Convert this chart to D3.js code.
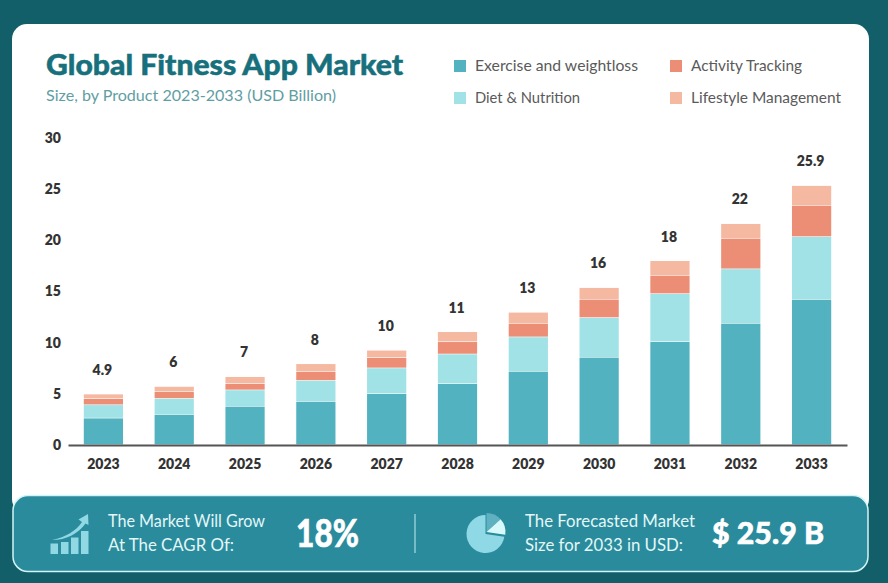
<!DOCTYPE html>
<html><head><meta charset="utf-8">
<script src="https://cdnjs.cloudflare.com/ajax/libs/d3/7.8.5/d3.min.js"></script>
<style>html,body{margin:0;padding:0;background:#125e69}svg{display:block}text{font-family:Lato,sans-serif}</style>
</head><body><svg id="c" width="888" height="583"></svg>
<script>
const years=["2023","2024","2025","2026","2027","2028","2029","2030","2031","2032","2033"];
const exercise=[2.6,2.96,3.75,4.23,4.99,5.96,7.17,8.54,10.07,11.86,14.2];
const diet=[1.3,1.56,1.6,2.05,2.51,2.9,3.36,3.88,4.69,5.32,6.13];
const activity=[0.6,0.68,0.62,0.88,1.01,1.2,1.33,1.79,1.79,2.99,3.06];
const lifestyle=[0.45,0.49,0.68,0.75,0.72,0.98,1.08,1.14,1.43,1.43,1.93];
const totalLabels=["4.9","6","7","8","10","11","13","16","18","22","25.9"];
const yTicks=[0,5,10,15,20,25,30];
const seriesNames=["Exercise and weightloss","Diet & Nutrition","Activity Tracking","Lifestyle Management"];
const seriesColors=["#52b2c0","#a0e2e6","#ec8d76","#f5b9a2"];

const svg=d3.select("#c");
svg.append("rect").attr("width",888).attr("height",583).attr("fill","#125e69");
svg.append("rect").attr("x",12).attr("y",24).attr("width",857).attr("height",490).attr("rx",15).attr("fill","#fff");

function fit(sel,w){return sel.attr("textLength",w).attr("lengthAdjust","spacingAndGlyphs");}
function label(t,x,y,size,weight,color,w){
  return fit(svg.append("text").text(t).attr("x",x).attr("y",y).attr("font-size",size).attr("font-weight",weight).attr("fill",color),w);
}
label("Global Fitness App Market",46,75,29,900,"#17707c",357).attr("stroke","#17707c").attr("stroke-width",.5);
label("Size, by Product 2023-2033 (USD Billion)",46,101,15.5,400,"#5f9ea3",290);

const x=d3.scaleBand().domain(years).range([68,847]).paddingInner(.446).paddingOuter(.223);
const y=d3.scaleLinear().domain([0,30]).range([445,138]);
const rows=years.map((yr,i)=>({year:yr,exercise:exercise[i],diet:diet[i],activity:activity[i],lifestyle:lifestyle[i]}));
const keys=["exercise","diet","activity","lifestyle"];
const stack=d3.stack().keys(keys)(rows);

svg.append("g").selectAll("g").data(stack).join("g").attr("fill",(d,i)=>seriesColors[i])
 .selectAll("rect").data(d=>d).join("rect")
 .attr("x",d=>x(d.data.year)).attr("width",x.bandwidth())
 .attr("y",d=>y(d[1])).attr("height",d=>Math.max(0,y(d[0])-y(d[1])-.6));

const yAxis=svg.append("g").attr("transform","translate(64,0)").call(d3.axisLeft(y).tickValues(yTicks).tickSize(0).tickPadding(3));
yAxis.select(".domain").remove();
yAxis.selectAll("text").attr("font-size",14).attr("font-weight",800).attr("fill","#333").style("font-family","Lato");

const xAxis=svg.append("g").attr("transform","translate(0,445)").call(d3.axisBottom(x).tickSize(0).tickPadding(14));
xAxis.select(".domain").attr("stroke","#555").attr("stroke-width",2);
xAxis.selectAll("text").attr("font-size",14).attr("font-weight",800).attr("fill","#333").style("font-family","Lato");

const tops=years.map((_,i)=>exercise[i]+diet[i]+activity[i]+lifestyle[i]);
svg.append("g").selectAll("text").data(totalLabels).join("text").text(d=>d)
 .attr("x",(d,i)=>x(years[i])+x.bandwidth()/2-1).attr("y",(d,i)=>y(tops[i])-19.5)
 .attr("text-anchor","middle").attr("font-size",14).attr("font-weight",800).attr("fill","#333");

const legPos=[[454,60,163],[454,92,105],[670,60,111],[670,92,150]];
seriesNames.forEach((n,i)=>{
  const p=legPos[i];
  svg.append("rect").attr("x",p[0]).attr("y",p[1]).attr("width",12).attr("height",12).attr("fill",seriesColors[i]);
  label(n,p[0]+21,p[1]+11,15,400,"#5a5a5a",p[2]);
});

// banner
svg.append("rect").attr("x",13).attr("y",495.5).attr("width",855).attr("height",76).attr("rx",15)
 .attr("fill","#2a8b9c").attr("stroke","#d3f4f6").attr("stroke-width",1.5);
const ink="#e3f7f8";
label("The Market Will Grow",108,527,16.5,400,ink,157);
label("At The CAGR Of:",108,551,16.5,400,ink,126);
label("18%",296,547,38,900,"#fff",63).attr("stroke","#fff").attr("stroke-width",.6);
svg.append("line").attr("x1",415).attr("x2",415).attr("y1",514).attr("y2",553).attr("stroke","#8fcdd6").attr("stroke-width",1.5);
label("The Forecasted Market",525,527,16.5,400,ink,170);
label("Size for 2033 in USD:",525,551,16.5,400,ink,158);
label("$ 25.9 B",712,544,31,900,"#fff",112).attr("stroke","#fff").attr("stroke-width",.6);

// growth icon
const icon=svg.append("g").attr("fill","#8fd8e4");
[[50.5,543.5],[61,542],[71,537.5],[81,531]].forEach(b=>icon.append("rect").attr("x",b[0]).attr("y",b[1]).attr("width",7.5).attr("height",554-b[1]));
icon.append("path").attr("d","M52 540 C66 537 76 531 82 522 L78.5 519.5 L88 514 L88.5 525 L85.5 523.5 C78 534 66 540 52 540 Z");

// pie icon
const arc=d3.arc();
const c=svg.append("g").attr("transform","translate(485.5,534)");
const deg=Math.PI/180;
c.append("path").attr("d",arc({innerRadius:0,outerRadius:19,startAngle:98*deg,endAngle:360*deg})).attr("fill","#8fd9e6");
const c2=svg.append("g").attr("transform","translate(486.5,532)");
c2.append("path").attr("d",arc({innerRadius:0,outerRadius:19,startAngle:0,endAngle:48*deg})).attr("fill","#5fb0c0");
c2.append("path").attr("d",arc({innerRadius:0,outerRadius:19,startAngle:48*deg,endAngle:98*deg})).attr("fill","#d8f9fb");
</script></body></html>
